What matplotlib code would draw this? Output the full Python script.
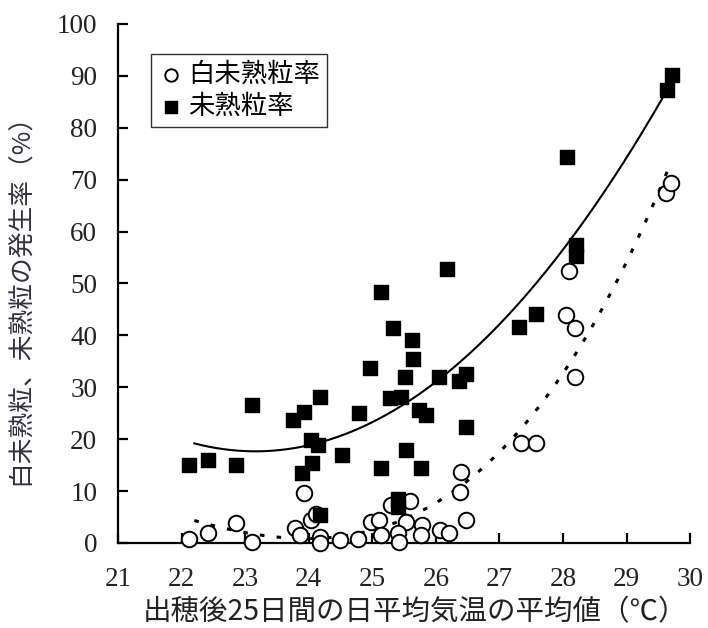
import numpy as np
import matplotlib.pyplot as plt

plt.rcParams['font.family'] = ['Noto Sans CJK JP', 'DejaVu Sans']

# 未熟粒率 (filled squares)
sq_x = [22.11, 22.42, 22.85, 23.10, 23.76, 23.93, 24.17, 24.03, 24.14, 24.05,
        23.89, 24.17, 24.53, 26.18, 25.14, 25.32, 25.62, 25.64, 24.97, 25.51,
        26.05, 26.37, 26.47, 25.28, 25.45, 24.79, 25.73, 25.84, 26.48, 25.53,
        25.14, 25.76, 25.41, 25.41, 27.31, 27.57, 28.07, 28.20, 28.20, 29.63,
        29.71]
sq_y = [15.0, 16.0, 15.0, 26.6, 23.6, 25.3, 28.1, 19.8, 18.9, 15.5,
        13.5, 5.4, 17.0, 52.7, 48.4, 41.5, 39.2, 35.4, 33.7, 32.0,
        31.9, 31.3, 32.6, 27.9, 28.1, 25.0, 25.6, 24.7, 22.3, 18.0,
        14.4, 14.4, 8.5, 7.0, 41.7, 44.1, 74.3, 57.4, 55.3, 87.3,
        90.2]

# 白未熟粒率 (open circles)
ci_x = [22.11, 22.42, 22.85, 23.11, 23.92, 23.79, 23.87, 24.03, 24.12, 24.18,
        24.17, 24.49, 24.77, 24.98, 25.11, 25.14, 25.29, 25.60, 25.53, 25.40,
        25.42, 25.78, 25.76, 26.07, 26.20, 26.48, 26.40, 26.38, 27.34, 27.57,
        28.04, 28.19, 28.19, 28.09, 29.62, 29.70]
ci_y = [0.7, 1.9, 3.8, 0.25, 9.7, 2.8, 1.5, 4.4, 5.5, 1.2,
        0.05, 0.6, 0.7, 4.1, 4.4, 1.5, 7.3, 8.0, 4.1, 1.9,
        0.25, 3.5, 1.5, 2.5, 1.9, 4.4, 13.7, 9.9, 19.3, 19.3,
        43.9, 41.4, 32.0, 52.4, 67.4, 69.3]

xticks = list(range(21, 31))
yticks = list(range(0, 101, 10))

fig = plt.figure(figsize=(7.08, 6.28), dpi=100)
ax = fig.add_axes([0.1667, 0.1354, 0.808, 0.8264])

# trend lines fitted to the data
xs = np.linspace(22.2, 29.7, 200)
p_sq = np.polyfit(sq_x, sq_y, 2)
p_ci = np.polyfit(ci_x, ci_y, 3)
ax.plot(xs, np.polyval(p_sq, xs), color='black', lw=1.5, zorder=2)
ax.plot(xs, np.polyval(p_ci, xs), color='black', lw=2.2, linestyle=(0, (1.5, 4)), zorder=2)

ax.scatter(ci_x, ci_y, s=125, marker='o', facecolor='white', edgecolor='black',
           linewidth=1.4, zorder=3, clip_on=False, label='白未熟粒率')
ax.scatter(sq_x, sq_y, s=110, marker='s', facecolor='black', edgecolor='black',
           zorder=4, clip_on=False, label='未熟粒率')

ax.set_xlim(21, 30)
ax.set_ylim(0, 100)
ax.set_xticks(xticks)
ax.set_yticks(yticks)
for s in ['top', 'right']:
    ax.spines[s].set_visible(False)
for s in ['left', 'bottom']:
    ax.spines[s].set_linewidth(1.6)
ax.tick_params(direction='in', length=7, width=1.6)
ax.tick_params(axis='y', pad=15)
ax.tick_params(axis='x', pad=17)
for lab in ax.get_xticklabels() + ax.get_yticklabels():
    lab.set_fontfamily('Liberation Serif')
    lab.set_fontsize(19.5)
    lab.set_color('#222222')

ax.set_xlabel('出穂後25日間の日平均気温の平均値（℃）', fontsize=20.5, color='#222222')
ax.xaxis.set_label_coords(0.52, -0.104)
ax.set_ylabel('白未熟粒、未熟粒の発生率（%）', fontsize=18.5, color='#353040')
ax.yaxis.set_label_coords(-0.148, 0.482)

leg = ax.legend(loc='upper left', bbox_to_anchor=(0.058, 0.942), fontsize=19,
                frameon=True, fancybox=False, edgecolor='black', handletextpad=0.15,
                borderpad=0.25, labelspacing=0.2, markerscale=0.8, handlelength=1.0,
                borderaxespad=0)
leg.get_frame().set_linewidth(1.0)

fig.savefig('out.png', dpi=100)
